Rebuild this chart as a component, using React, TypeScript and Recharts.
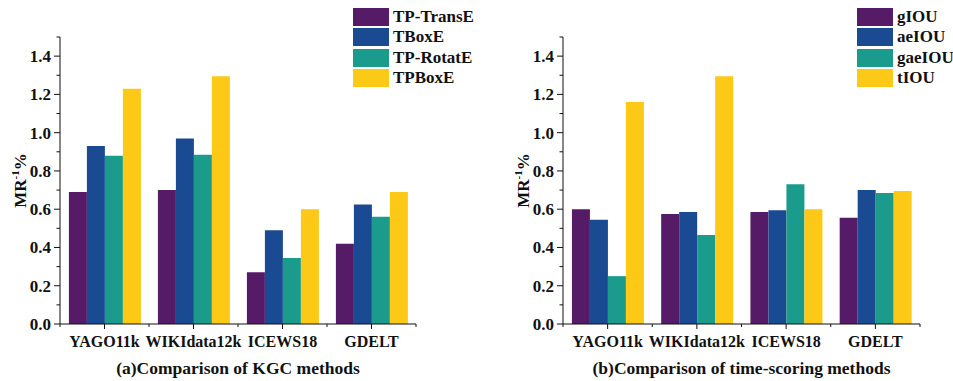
import React from "react";
import { BarChart, Bar, XAxis, YAxis, Legend } from "recharts";

const datasets = ["YAGO11k", "WIKIdata12k", "ICEWS18", "GDELT"];

// (a) KGC methods
const kgcNames = ["TP-TransE", "TBoxE", "TP-RotatE", "TPBoxE"];
const tpTransE = [0.69, 0.70, 0.27, 0.42];
const tBoxE = [0.93, 0.97, 0.49, 0.625];
const tpRotatE = [0.88, 0.885, 0.345, 0.56];
const tpBoxE = [1.23, 1.295, 0.6, 0.69];

// (b) time-scoring methods
const iouNames = ["gIOU", "aeIOU", "gaeIOU", "tIOU"];
const gIOU = [0.6, 0.575, 0.585, 0.555];
const aeIOU = [0.545, 0.585, 0.595, 0.7];
const gaeIOU = [0.25, 0.465, 0.73, 0.685];
const tIOU = [1.16, 1.295, 0.6, 0.695];

const yTicks = [0, 0.1, 0.2, 0.3, 0.4, 0.5, 0.6, 0.7, 0.8, 0.9, 1.0, 1.1, 1.2, 1.3, 1.4, 1.5];
const majorTicks = [0, 0.2, 0.4, 0.6, 0.8, 1.0, 1.2, 1.4];

const colors = ["#561b66", "#1a4a92", "#1a9b8b", "#fdc917"];
const FONT = "'Liberation Serif', 'Times New Roman', serif";
const INK = "#111";

const buildRows = (series: number[][], names: string[]) =>
  datasets.map((d, i) => {
    const row: Record<string, string | number> = { name: d };
    names.forEach((n, k) => (row[n] = series[k][i]));
    return row;
  });

const YTick = (props: any) => {
  const { x, y, payload } = props;
  const v = payload.value;
  const major = majorTicks.some((m) => Math.abs(m - v) < 1e-6);
  return (
    <g>
      <line x1={x - (major ? 6 : 3.5)} x2={x} y1={y} y2={y} stroke={INK} strokeWidth={1} />
      {major && (
        <text x={x - 9} y={y} dy={6} textAnchor="end" fontFamily={FONT} fontWeight="bold" fontSize={17} fill={INK}>
          {v.toFixed(1)}
        </text>
      )}
    </g>
  );
};

const makeXTick = (band: number) => (props: any) => {
  const { x, y, payload, index } = props;
  return (
    <g>
      <line x1={x} x2={x} y1={y} y2={y + 5} stroke={INK} strokeWidth={1} />
      {index === 0 && <line x1={x - band / 2} x2={x - band / 2} y1={y} y2={y + 3} stroke={INK} />}
      <line x1={x + band / 2} x2={x + band / 2} y1={y} y2={y + 3} stroke={INK} strokeWidth={1} />
      <text x={x} y={y + 23} textAnchor="middle" fontFamily={FONT} fontWeight="bold" fontSize={16} fill={INK}>
        {payload.value}
      </text>
    </g>
  );
};

const YLabel = (props: any) => {
  const { viewBox } = props;
  const cx = viewBox.x + viewBox.width - 40;
  const cy = viewBox.y + viewBox.height / 2;
  return (
    <text
      x={cx}
      y={cy}
      transform={`rotate(-90, ${cx}, ${cy})`}
      textAnchor="middle"
      dy={6}
      fontFamily={FONT}
      fontWeight="bold"
      fontSize={17}
      fill={INK}
    >
      MR
      <tspan dy={-7} fontSize={11}>-1</tspan>
      <tspan dy={7}>%</tspan>
    </text>
  );
};

const LegendBox = ({ names }: { names: string[] }) => (
  <div style={{ fontFamily: FONT, fontWeight: "bold", fontSize: 17, color: INK }}>
    {names.map((n, k) => (
      <div key={n} style={{ display: "flex", alignItems: "center", height: 20.3 }}>
        <span
          style={{
            display: "inline-block",
            width: 36,
            height: 18,
            background: colors[k],
            marginRight: 4,
          }}
        />
        <span>{n}</span>
      </div>
    ))}
  </div>
);

type PanelProps = {
  width: number;
  yAxisWidth: number;
  rightMargin: number;
  legendLeft: number;
  names: string[];
  series: number[][];
  title: string;
};

const Panel = ({ width, yAxisWidth, rightMargin, legendLeft, names, series, title }: PanelProps) => {
  const height = 381;
  const plotWidth = width - yAxisWidth - rightMargin;
  const band = plotWidth / datasets.length;
  const rows = buildRows(series, names);
  return (
    <div style={{ position: "relative", width, height }}>
      <BarChart
        width={width}
        height={height}
        data={rows}
        margin={{ top: 37, right: rightMargin, bottom: 0, left: 0 }}
        barCategoryGap="10%"
        barGap={0}
      >
        <XAxis
          dataKey="name"
          height={57}
          tickSize={0}
          tickMargin={0}
          tickLine={false}
          axisLine={{ stroke: INK }}
          interval={0}
          tick={makeXTick(band)}
        />
        <YAxis
          width={yAxisWidth}
          domain={[0, 1.5]}
          ticks={yTicks}
          interval={0}
          tickSize={0}
          tickMargin={0}
          tickLine={false}
          axisLine={{ stroke: INK }}
          tick={YTick}
          label={<YLabel />}
        />
        <Legend
          layout="vertical"
          align="center"
          verticalAlign="middle"
          content={<LegendBox names={names} />}
          wrapperStyle={{ top: 7, left: legendLeft, width: "auto" }}
        />
        {names.map((n, k) => (
          <Bar key={n} dataKey={n} fill={colors[k]} isAnimationActive={false} />
        ))}
      </BarChart>
      <div
        style={{
          position: "absolute",
          left: yAxisWidth,
          width: plotWidth,
          top: 358,
          textAlign: "center",
          fontFamily: FONT,
          fontWeight: "bold",
          fontSize: 17.5,
          color: INK,
          whiteSpace: "nowrap",
        }}
      >
        {title}
      </div>
    </div>
  );
};

export default function App() {
  return (
    <div style={{ position: "absolute", left: 0, top: 0, width: 953, height: 381, background: "#fff", display: "flex" }}>
      <Panel
        width={476}
        yAxisWidth={60}
        rightMargin={60}
        legendLeft={353}
        names={kgcNames}
        series={[tpTransE, tBoxE, tpRotatE, tpBoxE]}
        title="(a)Comparison of KGC methods"
      />
      <Panel
        width={477}
        yAxisWidth={87}
        rightMargin={33}
        legendLeft={381}
        names={iouNames}
        series={[gIOU, aeIOU, gaeIOU, tIOU]}
        title="(b)Comparison of time-scoring methods"
      />
    </div>
  );
}
